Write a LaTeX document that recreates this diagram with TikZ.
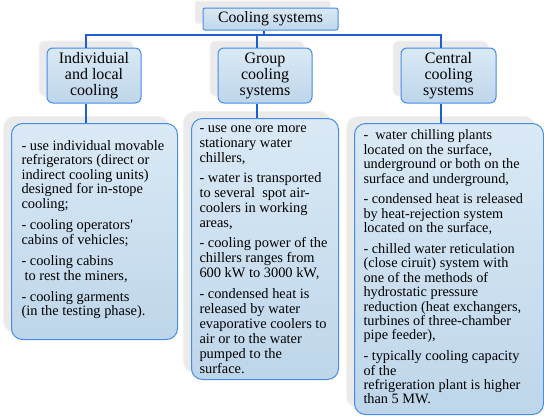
\documentclass[tikz,border=0pt]{standalone}
\usepackage{fontspec}
\setmainfont{Liberation Serif}
\usepackage{tikz}
\usetikzlibrary{shadows}

\definecolor{boxtop}{RGB}{218,233,245}
\definecolor{boxbot}{RGB}{190,214,234}
\definecolor{boxline}{RGB}{70,140,235}
\definecolor{linkblue}{RGB}{30,95,205}
\definecolor{glowgray}{RGB}{234,234,234}

% text of a tall box: height, width, top padding, item gap, items
\newcommand{\itemsbox}[5]{\parbox[c][#1][t]{#2}{\raggedright\parindent=0pt\parskip=#4\vspace*{#3}\strut#5}}

\begin{document}
\begin{tikzpicture}[x=1pt, y=-1pt,
    glow/.style={drop shadow={shadow xshift=-8pt, shadow yshift=7pt, fill=glowgray, draw=black!5, opacity=1}},
    head/.style={draw=boxline, line width=1pt, top color=boxtop, bottom color=boxbot, glow,
                 rounded corners=2pt, minimum width=135pt, minimum height=22pt, inner sep=0pt,
                 font=\fontsize{15.8}{16}\selectfont},
    sub/.style={draw=boxline, line width=1pt, top color=boxtop, bottom color=boxbot, glow,
                rounded corners=6pt, minimum height=55pt, inner sep=0pt, align=center,
                font=\fontsize{16}{16}\selectfont},
    listbox/.style={draw=boxline, line width=1pt, top color=boxtop, bottom color=boxbot, glow,
                    rounded corners=11pt, anchor=north west, inner ysep=0pt},
    link/.style={draw=linkblue, line width=2.6pt}
]
\useasboundingbox (0,0) rectangle (544,416);

% headings
\node[head] (cs) at (270.5,19) {Cooling systems};
\node[sub, minimum width=94pt] (ind) at (94,75.5) {Individuial\\and local\\cooling};
\node[sub, minimum width=94pt] (grp) at (265,75.5) {Group\\cooling\\systems};
\node[sub, minimum width=95pt] (cen) at (448.5,75.5) {Central\\cooling\\systems};

% lists
\node[listbox, inner xsep=10pt, font=\fontsize{14.4}{14.6}\selectfont] (indt) at (11,123)
  {\itemsbox{216pt}{146pt}{9.8pt}{6.6pt}{%
- use individual movable\\ refrigerators (direct or\\ indirect cooling units)\\ designed for in-stope\\ cooling;\par
- cooling operators\textquotesingle\\ cabins of vehicles;\par
- cooling cabins\\ \hspace*{3pt}to rest the miners,\par
- cooling garments\\ (in the testing phase).}};
\node[listbox, inner xsep=8pt, font=\fontsize{14.4}{15}\selectfont] (grpt) at (191,118)
  {\itemsbox{261pt}{131pt}{-2.3pt}{5.4pt}{%
- use one ore more\\ stationary water\\ chillers,\par
- water is transported\\ to several\ \ spot air-\\ coolers in working\\ areas,\par
- cooling power of the\\ chillers ranges from\\ 600 kW to 3000 kW,\par
- condensed heat is\\ released by water\\ evaporative coolers to\\ air or to the water\\ pumped to the\\ surface.}};
\node[listbox, inner xsep=9pt, font=\fontsize{14.3}{14.4}\selectfont] (cent) at (354,123)
  {\itemsbox{291pt}{171pt}{0pt}{6.4pt}{%
-\ \ water chilling plants\\ located on the surface,\\ underground or both on the\\ surface and underground,\par
- condensed heat is released\\ by heat-rejection system\\ located on the surface,\par
- chilled water reticulation\\ (close ciruit) system with\\ one of the methods of\\ hydrostatic pressure\\ reduction (heat exchangers,\\ turbines of three-chamber\\ pipe feeder),\par
- typically cooling capacity\\ of the\\ refrigeration plant is higher\\ than 5 MW.}};

% connectors
\coordinate (bus) at (0,35);
\draw[link] ([xshift=-8pt]ind.north) -- ([xshift=-8pt]ind.north |- bus)
    -- ([xshift=-7.5pt]cen.north |- bus) -- ([xshift=-7.5pt]cen.north);
\draw[link] ([xshift=-6.5pt]cs.south) -- ([xshift=-6.5pt]cs.south |- bus);
\draw[link] ([xshift=-8pt]grp.north |- bus) -- ([xshift=-8pt]grp.north);
\draw[link] ([xshift=-8pt]ind.south) -- ([xshift=-8pt]ind.south |- indt.north);
\draw[link] ([xshift=-8pt]grp.south) -- ([xshift=-8pt]grp.south |- grpt.north);
\draw[link] ([xshift=-7.5pt]cen.south) -- ([xshift=-7.5pt]cen.south |- cent.north);
\end{tikzpicture}
\end{document}
